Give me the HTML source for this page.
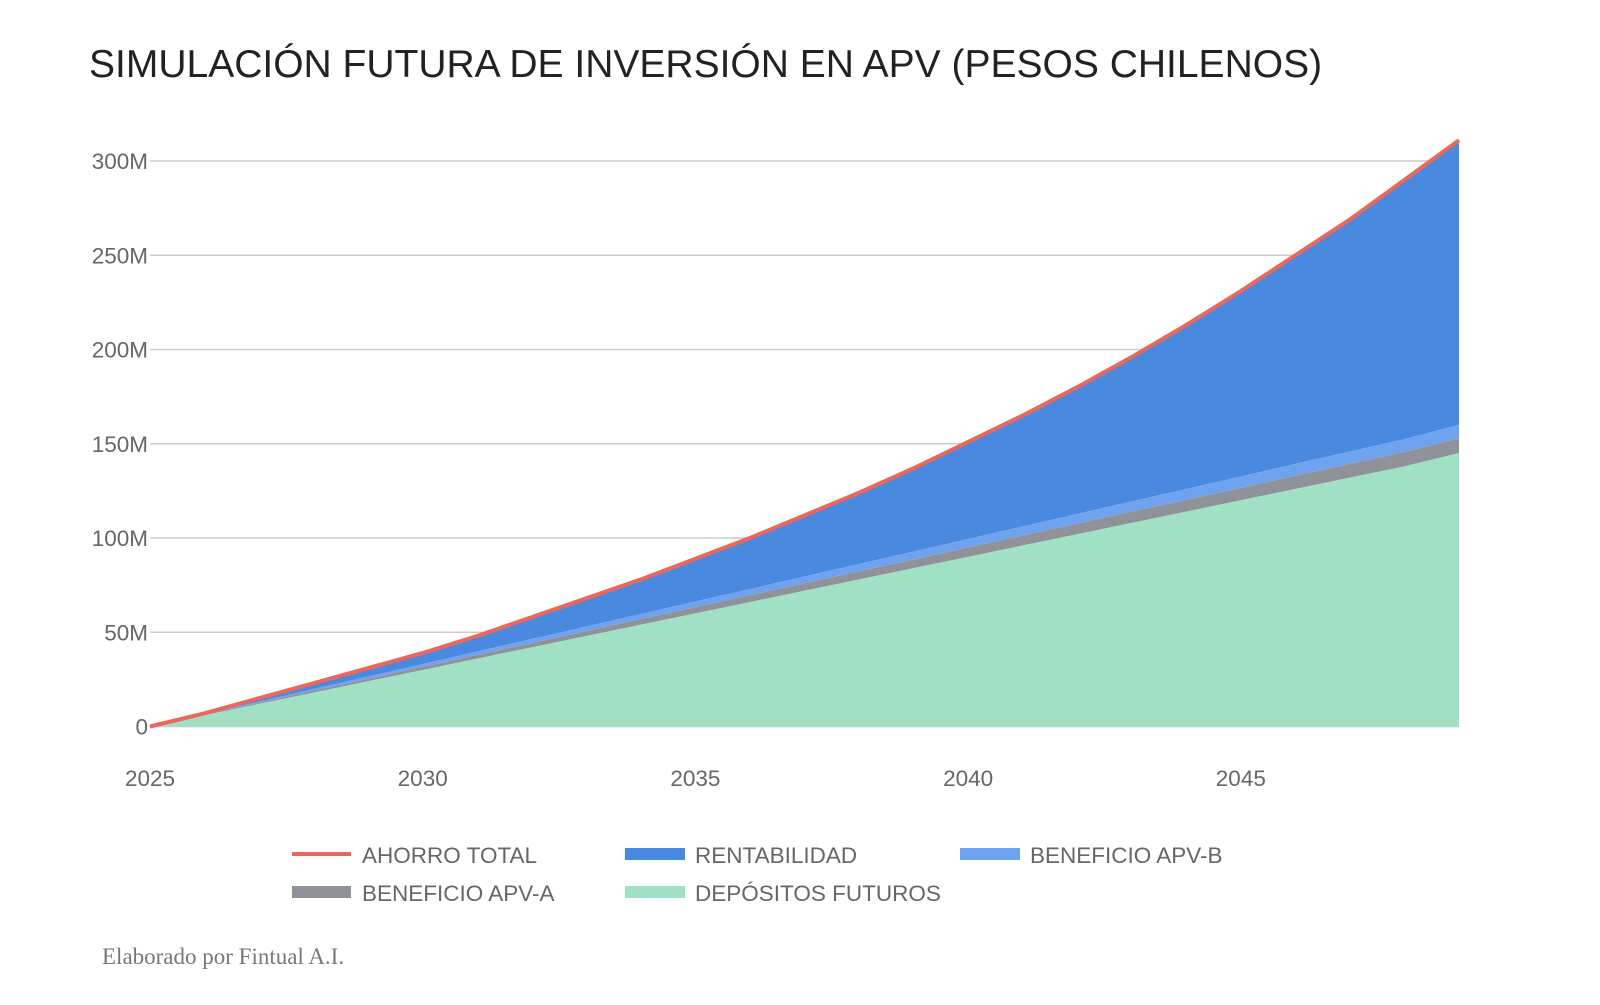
<!DOCTYPE html>
<html><head><meta charset="utf-8"><style>
body{margin:0;background:#fff;width:1600px;height:1000px;overflow:hidden;font-family:"Liberation Sans",sans-serif}
</style></head><body>
<svg width="1600" height="1000" xmlns="http://www.w3.org/2000/svg">
<text x="89" y="77" font-size="39" fill="#222">SIMULACIÓN FUTURA DE INVERSIÓN EN APV (PESOS CHILENOS)</text>
<g id="grid"></g>
<g id="areas"></g>
<g id="yt"></g>
<g id="xt"></g>
<g font-size="22.5" fill="#666">
<g><rect x="292" y="852" width="59" height="4" fill="#e8685e"/><text x="362" y="863">AHORRO TOTAL</text></g>
<g><rect x="625" y="848" width="60" height="12" fill="#4a89e0"/><text x="695" y="863">RENTABILIDAD</text></g>
<g><rect x="960" y="848" width="60" height="12" fill="#6fa3ef"/><text x="1030" y="863">BENEFICIO APV-B</text></g>
<g><rect x="292" y="886" width="59" height="12" fill="#8f9399"/><text x="362" y="901">BENEFICIO APV-A</text></g>
<g><rect x="625" y="886" width="60" height="12" fill="#a0e1c5"/><text x="695" y="901">DEPÓSITOS FUTUROS</text></g>
</g>
<text x="102" y="964" font-family="Liberation Serif,serif" font-size="23" fill="#777">Elaborado por Fintual A.I.</text>
</svg>
<script>
const years=[2025,2026,2027,2028,2029,2030,2031,2032,2033,2034,2035,2036,2037,2038,2039,2040,2041,2042,2043,2044,2045,2046,2047,2048,2049];
const depositos=[0,6,12,18,24,30,36,42,48,54,60,66,72,78,84,90,96,102,108,114,120,126,132,138,145];
const apvA=[0,0.3,0.6,1,1.3,1.6,2,2.3,2.6,3,3.3,3.6,4,4.3,4.6,5,5.3,5.6,6,6.3,6.6,7,7.3,7.6,8];
const apvB=[0,0.3,0.6,0.9,1.2,1.5,1.8,2.1,2.4,2.7,3,3.3,3.6,3.9,4.2,4.5,4.8,5.1,5.4,5.7,6,6.3,6.6,6.8,7];
const ahorroTotal=[0,7,15,23,31,39,48,58,68,78,89,100,112,124,137,151,165,180,196,213,231,250,269,290,311];
const yTicks=[0,50,100,150,200,250,300];
const yTickLabels=["0","50M","100M","150M","200M","250M","300M"];
const xTicks=[2025,2030,2035,2040,2045];
const NS="http://www.w3.org/2000/svg";
const X=y=>150+(y-2025)*(1459-150)/24;
const Y=v=>726.5-v*(726.5-161)/300;
function mk(t,a,p){const e=document.createElementNS(NS,t);for(const k in a)e.setAttribute(k,a[k]);p.appendChild(e);return e;}
const grid=document.getElementById('grid'),yt=document.getElementById('yt'),xt=document.getElementById('xt'),areas=document.getElementById('areas');
yTicks.forEach((v,i)=>{
 const l=mk('line',{x1:150,x2:1459,y1:Y(v),y2:Y(v),stroke:'#ccc','stroke-width':1.5},grid);
 
 
 const t=mk('text',{x:148,y:Y(v)+8,'text-anchor':'end','font-size':22.5,fill:'#666'},yt);
 t.textContent=yTickLabels[i];
 
 
});
xTicks.forEach(y=>{
 const t=mk('text',{x:X(y),y:786,'text-anchor':'middle','font-size':22.5,fill:'#666'},xt);
 t.textContent=y;
 
 
});
const c1=depositos, c2=c1.map((v,i)=>v+apvA[i]), c3=c2.map((v,i)=>v+apvB[i]);
function band(lo,hi,fill,name){
 let d='M'+years.map((y,i)=>X(y)+','+Y(hi[i])).join('L');
 for(let i=years.length-1;i>=0;i--)d+='L'+X(years[i])+','+Y(lo?lo[i]:0);
 const p=mk('path',{d:d+'Z',fill:fill},areas);
 
 
}
band(c3,ahorroTotal,'#4a89e0','area-rentabilidad');
band(c2,c3,'#6fa3ef','area-beneficio-apv-b');
band(c1,c2,'#8f9399','area-beneficio-apv-a');
band(null,c1,'#a0e1c5','area-depositos-futuros');
const ln=mk('path',{d:'M'+years.map((y,i)=>X(y)+','+Y(ahorroTotal[i])).join('L'),fill:'none',stroke:'#e8685e','stroke-width':4},areas);


</script>
</body></html>
